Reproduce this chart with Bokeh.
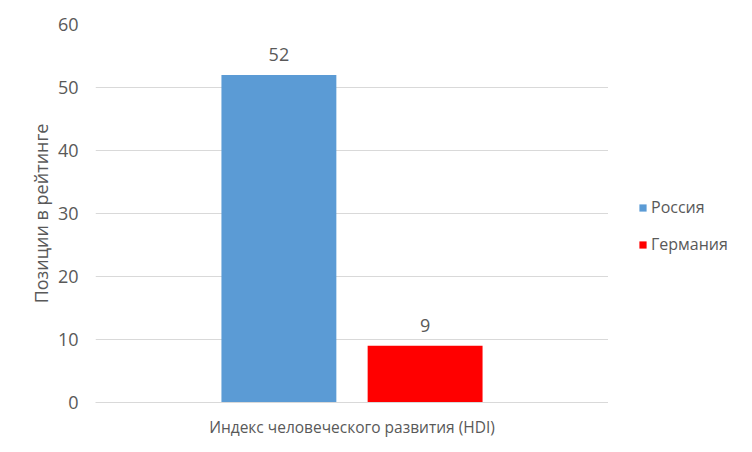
from bokeh.plotting import figure
from bokeh.layouts import row
from bokeh.core.properties import value
from bokeh.models import ColumnDataSource, FactorRange, Range1d, LabelSet, Legend, LegendItem
from bokeh.transform import dodge
from bokeh.embed import file_html
from bokeh.resources import INLINE

category = ["Индекс человеческого развития (HDI)"]
russia = [52]
germany = [9]
y_ticks = [0, 10, 20, 30, 40, 50, 60]
series_names = ["Россия", "Германия"]
colors = ["#5B9BD5", "#FF0000"]

FONT = "Open Sans"
TXT = "#595959"
OFF = 0.1425
BW = 0.224

p = figure(frame_width=513, frame_height=378, x_range=FactorRange(factors=category),
           y_range=Range1d(0, 60), output_backend="svg", toolbar_location=None,
           min_border_left=95, min_border_right=0, min_border_top=24, min_border_bottom=34)
p.outline_line_color = None

src_r = ColumnDataSource(dict(cat=category, val=russia, lab=[str(v) for v in russia]))
src_g = ColumnDataSource(dict(cat=category, val=germany, lab=[str(v) for v in germany]))

p.vbar(x=dodge("cat", -OFF, range=p.x_range), top="val", width=BW, source=src_r,
       fill_color=colors[0], line_color=None)
p.vbar(x=dodge("cat", OFF, range=p.x_range), top="val", width=BW, source=src_g,
       fill_color=colors[1], line_color=None)

for src, off in ((src_r, -OFF), (src_g, OFF)):
    p.add_layout(LabelSet(x=dodge("cat", off, range=p.x_range), y="val", text="lab", source=src,
                          y_offset=14, text_align="center", text_baseline="bottom",
                          text_font=value(FONT), text_font_size=value("18px"), text_color=TXT))

p.xgrid.grid_line_color = None
p.ygrid.grid_line_color = "#D9D9D9"
p.ygrid.grid_line_width = 1

p.yaxis.ticker = y_ticks
p.yaxis.axis_line_color = None
p.yaxis.major_tick_line_color = None
p.yaxis.minor_tick_line_color = None
p.yaxis.major_label_text_font = FONT
p.yaxis.major_label_text_font_size = "18px"
p.yaxis.major_label_text_color = TXT
p.yaxis.major_label_standoff = 11
p.yaxis.axis_label = "Позиции в рейтинге"
p.yaxis.axis_label_text_font = FONT
p.yaxis.axis_label_text_font_size = "18px"
p.yaxis.axis_label_text_font_style = "normal"
p.yaxis.axis_label_text_color = TXT
p.yaxis.axis_label_standoff = 2

p.xaxis.axis_line_color = "#D9D9D9"
p.xaxis.major_tick_line_color = None
p.xaxis.major_label_text_font = FONT
p.xaxis.major_label_text_font_size = "15.5px"
p.xaxis.major_label_text_color = TXT
p.xaxis.major_label_standoff = 7

# legend panel: a second figure whose frame holds the legend (its bars lie outside the view)
q = figure(width=128, height=436, x_range=FactorRange(factors=category),
           y_range=Range1d(60, 120), output_backend="svg", toolbar_location=None,
           x_axis_location=None, y_axis_location=None,
           min_border_left=0, min_border_right=0, min_border_top=0, min_border_bottom=0)
q.outline_line_color = None
q.grid.visible = False
lr = q.vbar(x=dodge("cat", 5.0, range=q.x_range), top="val", width=BW, source=src_r,
            fill_color=colors[0], line_color=None)
lg = q.vbar(x=dodge("cat", 5.5, range=q.x_range), top="val", width=BW, source=src_g,
            fill_color=colors[1], line_color=None)

legend = Legend(items=[LegendItem(label=series_names[0], renderers=[lr]),
                       LegendItem(label=series_names[1], renderers=[lg])],
                location=(30, 143), orientation="vertical",
                glyph_width=9, glyph_height=9, label_standoff=4, spacing=15,
                label_text_font=FONT, label_text_font_size="16px", label_text_color=TXT,
                border_line_color=None, background_fill_alpha=0, padding=0, margin=0)
q.add_layout(legend, "center")

layout = row(p, q, spacing=0)
open("out.html", "w").write(file_html(layout, INLINE))
